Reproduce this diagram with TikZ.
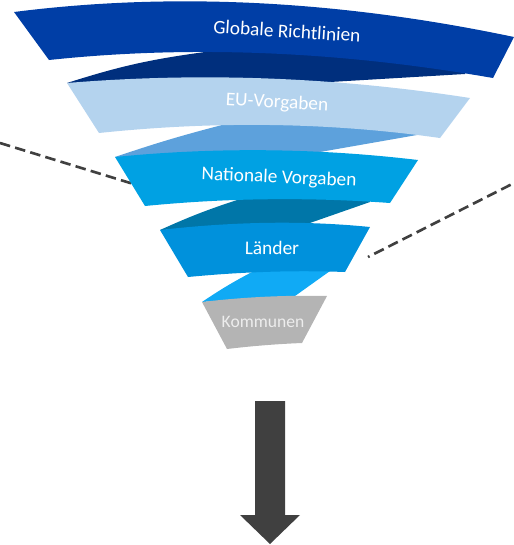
\documentclass[tikz,border=0pt]{standalone}
\usepackage{fontspec}
\setmainfont{Carlito}
\usepackage{tikz}
\usetikzlibrary{positioning}

\definecolor{globalblue}{RGB}{0,62,166}
\definecolor{globalback}{RGB}{0,47,125}
\definecolor{eublue}{RGB}{180,211,238}
\definecolor{euback}{RGB}{93,161,220}
\definecolor{natblue}{RGB}{0,161,227}
\definecolor{natback}{RGB}{0,118,168}
\definecolor{landblue}{RGB}{0,145,220}
\definecolor{landback}{RGB}{16,170,245}
\definecolor{komgray}{RGB}{180,180,180}
\definecolor{arrowgray}{RGB}{64,64,64}

\begin{document}
\begin{tikzpicture}[
  x=0.02cm, y=-0.02cm,
  level/.style={text=white, font=\fontsize{11}{13}\selectfont, inner sep=0pt},
  guide/.style={draw=arrowgray, line width=1.5pt, dash pattern=on 6pt off 3pt}
]
  \useasboundingbox (0,0) rectangle (514,545);

  % dashed guides (behind the funnel)
  \coordinate (gl1) at (0,143);
  \coordinate (gl2) at (140,186);
  \coordinate (gr1) at (368,257);
  \coordinate (gr2) at (522,179);
  \draw[guide] (gl1) -- (gl2);
  \draw[guide, dash phase=5pt] (gr1) -- (gr2);

  % back sides of the ribbon
  \fill[globalback] (67,83) to[bend left=5] (205,52) -- (205,38) -- (465,58) -- (465,74) -- (330,82) -- cycle;
  \fill[euback] (115,157) to[bend left=2] (222,125) -- (222,112) -- (417,122) -- (417,135) -- (320,152) -- cycle;
  \fill[natback] (160,230) to[bend left=3] (237,200) -- (237,188) -- (370,190) -- (370,202) -- (307,224) -- cycle;
  \fill[landback] (202,302) to[bend left=3] (252,272) -- (252,262) -- (330,262) -- (330,271) -- (295,296) -- cycle;

  % front bands
  \fill[globalblue] (14,12) .. controls (171,-8) and (338,0) .. (514,37) -- (493,78)
    .. controls (338,51) and (190,45) .. (49,60) -- cycle;
  \fill[eublue] (67,83) .. controls (201,72) and (335,77) .. (470,98) -- (440,138)
    .. controls (327,122) and (213,121) .. (99,133) -- cycle;
  \fill[natblue] (115,157) .. controls (216,147) and (317,148) .. (418,160) -- (390,203)
    .. controls (308,197) and (226,198) .. (145,206) -- cycle;
  \fill[landblue] (160,230) .. controls (230,222) and (300,220) .. (370,227) -- (345,272)
    .. controls (292,270) and (240,272) .. (188,277) -- cycle;
  \fill[komgray] (202,302) .. controls (244,297) and (286,295) .. (327,296) -- (302,343)
    .. controls (277,344) and (252,346) .. (227,349) -- cycle;

  \node[level, rotate=-3.5] (global) at (287,31) {Globale Richtlinien};
  \node[level, rotate=-3] (eu) at (277,103) {EU-Vorgaben};
  \node[level, rotate=-2.5] (national) at (279,178) {Nationale Vorgaben};
  \node[level, rotate=-1] (laender) at (272,248) {Länder};
  \node[level, text=white!93!black, font=\fontsize{10}{12}\selectfont] (kommunen) at (263,322) {Kommunen};

  % down arrow
  \fill[arrowgray] (255,401) -- (285,401) -- (285,515) -- (300,515) -- (270,544) -- (240,515) -- (255,515) -- cycle;
\end{tikzpicture}
\end{document}
